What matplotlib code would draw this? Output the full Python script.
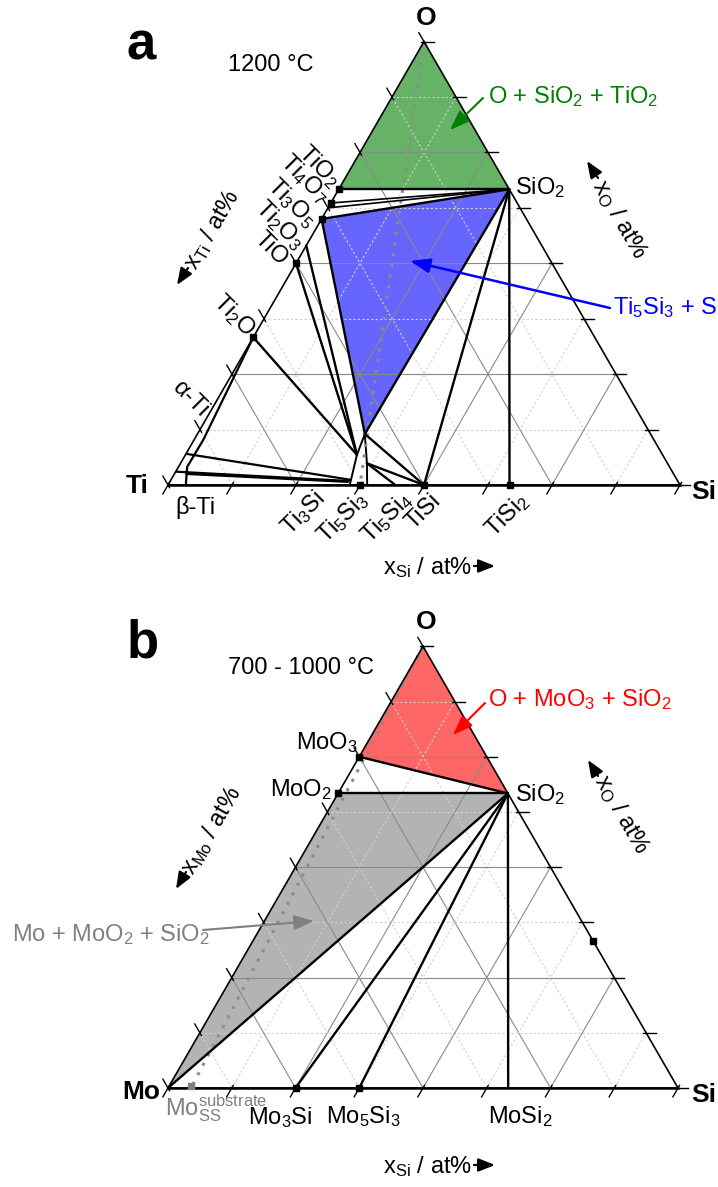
import numpy as np
import matplotlib.pyplot as plt
from matplotlib.patches import Polygon

plt.rcParams['font.family'] = ['Liberation Sans', 'DejaVu Sans']
plt.rcParams['mathtext.fontset'] = 'custom'
plt.rcParams['mathtext.rm'] = 'Liberation Sans'
plt.rcParams['mathtext.it'] = 'Liberation Sans:italic'
plt.rcParams['mathtext.bf'] = 'Liberation Sans:bold'
plt.rcParams['mathtext.default'] = 'regular'

W, H = 718, 1187
H3 = np.sqrt(3) / 2
FS = 17

################### Data: compositions (x_metal, x_Si, x_O) in at% ###################
# a: Ti-Si-O, 1200 C
PTS_A = {
    'O': (0, 0, 100), 'TiO2': (33.3, 0, 66.7), 'Ti4O7': (36.4, 0, 63.6),
    'Ti3O5': (37.5, 0, 62.5), 'Ti2O3': (40, 0, 60), 'TiO_hi': (46, 0, 54),
    'TiO': (50, 0, 50), 'Ti2O': (66.7, 0, 33.3), 'SiO2': (0, 33.3, 66.7),
    'TiSi2': (33.3, 66.7, 0), 'TiSi': (50, 50, 0), 'Ti5Si4': (55.6, 44.4, 0),
    'Ti5Si3': (62.5, 37.5, 0),
    # Ti5Si3(O) homogeneity range
    'T5_bl': (64.5, 35.5, 0), 'T5_mid': (59.7, 33.5, 6.8), 'T5_top': (55.8, 32.7, 11.5),
    'T5_rmid': (58.7, 36.4, 4.9), 'T5_br': (61.1, 38.9, 0),
}
T5_BAND = ['T5_bl', 'T5_mid', 'T5_top', 'T5_rmid', 'T5_br']
GREEN_A = ['O', 'TiO2', 'SiO2']
BLUE_A = ['Ti2O3', 'SiO2', 'T5_top']
TIES_A = [('TiO2', 'SiO2'), ('Ti4O7', 'SiO2'), ('Ti3O5', 'SiO2'), ('Ti2O3', 'SiO2'),
          ('SiO2', 'T5_top'), ('Ti2O3', 'T5_top'), ('SiO2', 'TiSi'), ('SiO2', 'TiSi2'),
          ('TiO', 'T5_mid'), ('TiO_hi', 'T5_mid'), ('Ti2O', 'T5_mid'),
          ('T5_top', 'TiSi'), ('T5_rmid', 'TiSi'), ('T5_rmid', 'Ti5Si4')]
# alpha-Ti boundary and alpha/beta-Ti + Ti5Si3 tie lines
ALPHA_TI = [(66.7, 0, 33.3), (88.1, 1.8, 10.2), (94.3, 1.7, 4.1), (96.3, 3.3, 0.4), (96.5, 3.5, 0)]
ALPHA_TIES = [((92.8, 0.2, 7.0), (63.9, 34.9, 1.2)),
              ((96.8, 0.2, 3.0), (64.2, 34.9, 0.9)),
              ((95.2, 2.3, 2.5), (64.5, 34.8, 0.7))]
MARK_A = ['TiO2', 'Ti4O7', 'Ti2O3', 'TiO', 'Ti2O', 'Ti5Si3', 'TiSi', 'TiSi2']
PATH_A = ['O', 'Ti5Si3']

# b: Mo-Si-O, 700 - 1000 C
PTS_B = {
    'O': (0, 0, 100), 'Mo': (100, 0, 0), 'MoO3': (25, 0, 75), 'MoO2': (33.3, 0, 66.7),
    'SiO2': (0, 33.3, 66.7), 'SiO': (0, 66.7, 33.3), 'Mo3Si': (75, 25, 0),
    'Mo5Si3': (62.5, 37.5, 0), 'MoSi2': (33.3, 66.7, 0), 'MoSS': (95.5, 4.5, 0),
}
RED_B = ['O', 'MoO3', 'SiO2']
GRAY_B = ['Mo', 'MoO2', 'SiO2']
TIES_B = [('MoO3', 'SiO2'), ('MoO2', 'SiO2'), ('Mo', 'SiO2'), ('SiO2', 'Mo3Si'),
          ('SiO2', 'Mo5Si3'), ('SiO2', 'MoSi2')]
MARK_B = ['MoO3', 'MoO2', 'Mo3Si', 'Mo5Si3', 'SiO']
PATH_B = ['O', 'MoSS']


def tern(c):
    c = np.asarray(c, float)
    c = c / c.sum(axis=-1, keepdims=True)
    return c[..., 1] + c[..., 2] / 2, c[..., 2] * H3


def fpx(x, y):
    return (x / W, 1 - y / H)


fig = plt.figure(figsize=(W / 100, H / 100), dpi=100)


def make_panel(top, bottom, origin, side):
    ax = fig.add_axes([0, 1 - bottom / H, 1, (bottom - top) / H])
    ox, oy = origin
    ax.set_xlim(-ox / side, (W - ox) / side)
    ax.set_ylim(-(bottom - oy) / side, (oy - top) / side)
    ax.axis('off')
    # grid every 12.5 at%
    for k in range(1, 8):
        c = k / 8
        if k % 2 == 0:
            st = dict(color='#8a8a8a', lw=0.8, ls='-')
        else:
            st = dict(color='#cfcfcf', lw=0.8, ls=(0, (2, 2)))
        for a, b in [((1 - c, c, 0), (0, c, 1 - c)), ((1 - c, 0, c), (0, 1 - c, c)),
                     ((c, 1 - c, 0), (c, 0, 1 - c))]:
            x, y = tern([a, b])
            ax.plot(x, y, zorder=2, **st)
    # frame
    x, y = tern([(0, 0, 1), (1, 0, 0), (0, 1, 0), (0, 0, 1)])
    ax.plot(x, y, color='k', lw=1.2, zorder=4)
    x, y = tern([(1, 0, 0), (0, 1, 0)])
    ax.plot(x, y, color='k', lw=1.8, zorder=4)
    # ticks
    L = 0.02
    for k in range(9):
        c = k / 8
        for p, d in [((1 - c, c, 0), (-0.5, -H3)), ((0, 1 - c, c), (1, 0)), ((c, 0, 1 - c), (-0.5, H3))]:
            x, y = tern(p)
            ax.plot([x - 0.3 * L * d[0], x + L * d[0]], [y - 0.3 * L * d[1], y + L * d[1]],
                    color='k', lw=1.0, zorder=4)
    return ax


def fill(ax, pts, names, color):
    x, y = tern([pts[n] for n in names])
    ax.add_patch(Polygon(np.column_stack([x, y]), closed=True, fc=color, ec='none', zorder=1))


def line(ax, a, b, lw=1.6, color='k', z=3):
    x, y = tern([a, b])
    ax.plot(x, y, color=color, lw=lw, zorder=z, solid_capstyle='round')


def arrow(x0, y0, x1, y1, color, lw=1.5, hl=0.6, hw=0.22):
    fig.add_artist(plt.Annotation('', xy=fpx(x1, y1), xytext=fpx(x0, y0),
                                  xycoords='figure fraction', textcoords='figure fraction',
                                  arrowprops=dict(arrowstyle=f'-|>,head_length={hl},head_width={hw}',
                                                  color=color, lw=lw, shrinkA=0, shrinkB=0,
                                                  mutation_scale=20)))


def ftext(x, y, s, **kw):
    kw.setdefault('fontsize', FS)
    kw.setdefault('va', 'center')
    fig.text(*fpx(x, y), s, **kw)


################### Panel a ###################
ax = make_panel(0, 593, (168, 485), 512)
fill(ax, PTS_A, GREEN_A, '#66b266')
fill(ax, PTS_A, BLUE_A, '#6666ff')
x, y = tern([PTS_A[n] for n in T5_BAND])
ax.add_patch(Polygon(np.column_stack([x, y]), closed=True, fc='white', ec='k', lw=1.4, zorder=2.6))
x, y = tern([PTS_A[n] for n in PATH_A])
ax.plot(x, y, color='#8c8c8c', lw=2.2, ls=(0, (1, 2.5)), zorder=2.7)
for a, b in TIES_A:
    thin = a in ('Ti4O7', 'Ti3O5')
    line(ax, PTS_A[a], PTS_A[b], lw=1.2 if thin else 1.7)
x, y = tern(ALPHA_TI)
ax.plot(x, y, color='k', lw=1.6, zorder=3)
for a, b in ALPHA_TIES:
    line(ax, a, b, lw=1.6)
x, y = tern([PTS_A[n] for n in MARK_A])
ax.plot(x, y, ls='none', marker='s', ms=4, color='k', zorder=5)

ftext(141, 45, 'a', fontsize=38, fontweight='bold', ha='center')
ftext(228, 65, '1200 °C', ha='left')
ftext(426, 18, 'O', fontsize=19, fontweight='bold', ha='center')
ftext(137, 486, 'Ti', fontsize=19, fontweight='bold', ha='center')
ftext(704, 492, 'Si', fontsize=19, fontweight='bold', ha='center')
ftext(515, 188, 'SiO$_2$', ha='left')

left_labels_a = [('TiO$_2$', 336, 184), ('Ti$_4$O$_7$', 325, 200), ('Ti$_3$O$_5$', 312, 224),
                 ('Ti$_2$O$_3$', 300, 246), ('TiO', 284, 262), ('Ti$_2$O', 251, 333),
                 ('$\\alpha$-Ti', 205, 413)]
for s, xx, yy in left_labels_a:
    fig.text(*fpx(xx, yy), s, fontsize=FS, rotation=-45, ha='right', va='center',
             rotation_mode='anchor')
ftext(195, 508, 'β-Ti', ha='center')
base_labels_a = [('Ti$_3$Si', 303, 513), ('Ti$_5$Si$_3$', 343, 517), ('Ti$_5$Si$_4$', 387, 517),
                 ('TiSi', 423, 512), ('TiSi$_2$', 507, 515)]
for s, xx, yy in base_labels_a:
    ftext(xx, yy, s, rotation=45, ha='center')

ftext(383, 568, 'x$_{Si}$ / at%', ha='left')
arrow(474, 566, 495, 566, 'k', lw=1.6, hl=0.5, hw=0.2)
ftext(212, 230, 'x$_{Ti}$ / at%', ha='center', rotation=60)
arrow(188, 268, 177, 285, 'k', lw=1.6, hl=0.5, hw=0.2)
ftext(620, 220, 'x$_{O}$ / at%', ha='center', rotation=-60)
arrow(598, 178, 587, 161, 'k', lw=1.6, hl=0.5, hw=0.2)

ftext(488, 97, 'O + SiO$_2$ + TiO$_2$', ha='left', color='#008000')
arrow(483, 98, 450, 130, '#008000')
ftext(613, 308, 'Ti$_5$Si$_3$ + SiO$_2$ + Ti$_2$O$_3$', ha='left', color='#0000ff')
arrow(610, 308, 410, 261, '#0000ff', lw=1.8)

################### Panel b ###################
ax = make_panel(593, H, (168, 1088), 510)
fill(ax, PTS_B, RED_B, '#ff6666')
fill(ax, PTS_B, GRAY_B, '#b3b3b3')
x, y = tern([PTS_B[n] for n in PATH_B])
ax.plot(x, y, color='#8c8c8c', lw=2.2, ls=(0, (1, 2.5)), zorder=2.7)
for a, b in TIES_B:
    line(ax, PTS_B[a], PTS_B[b], lw=1.7)
x, y = tern([PTS_B[n] for n in MARK_B])
ax.plot(x, y, ls='none', marker='s', ms=4, color='k', zorder=5)
x, y = tern(PTS_B['MoSS'])
ax.plot([x], [y + 0.004], ls='none', marker='s', ms=4, color='#808080', zorder=5)

ftext(143, 644, 'b', fontsize=38, fontweight='bold', ha='center')
ftext(228, 668, '700 - 1000 °C', ha='left')
ftext(426, 622, 'O', fontsize=19, fontweight='bold', ha='center')
ftext(141, 1092, 'Mo', fontsize=19, fontweight='bold', ha='center')
ftext(704, 1095, 'Si', fontsize=19, fontweight='bold', ha='center')
ftext(515, 795, 'SiO$_2$', ha='left')
ftext(358, 743, 'MoO$_3$', ha='right')
ftext(332, 790, 'MoO$_2$', ha='right')
ftext(165, 1108, 'Mo$_{SS}^{substrate}$', ha='left', color='#808080')
ftext(280, 1118, 'Mo$_3$Si', ha='center')
ftext(363, 1117, 'Mo$_5$Si$_3$', ha='center')
ftext(520, 1117, 'MoSi$_2$', ha='center')

ftext(383, 1167, 'x$_{Si}$ / at%', ha='left')
arrow(474, 1165, 495, 1165, 'k', lw=1.6, hl=0.5, hw=0.2)
ftext(212, 831, 'x$_{Mo}$ / at%', ha='center', rotation=60)
arrow(186, 872, 176, 889, 'k', lw=1.6, hl=0.5, hw=0.2)
ftext(622, 815, 'x$_{O}$ / at%', ha='center', rotation=-60)
arrow(598, 776, 588, 760, 'k', lw=1.6, hl=0.5, hw=0.2)

ftext(488, 700, 'O + MoO$_3$ + SiO$_2$', ha='left', color='#ff0000')
arrow(485, 703, 453, 735, '#ff0000')
ftext(12, 935, 'Mo + MoO$_2$ + SiO$_2$', ha='left', color='#808080')
arrow(203, 930, 314, 921, '#808080')

fig.savefig('out.png', dpi=100)
